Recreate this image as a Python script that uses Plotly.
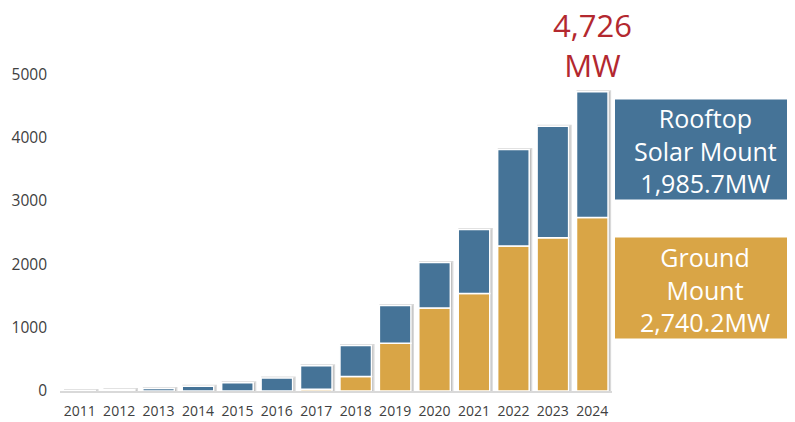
import plotly.graph_objects as go

years = ["2011", "2012", "2013", "2014", "2015", "2016", "2017",
         "2018", "2019", "2020", "2021", "2022", "2023", "2024"]
ground_mw = [0, 0, 0, 0, 0, 0, 28, 228, 755, 1310, 1540, 2290, 2420, 2740.2]
rooftop_mw = [6, 25, 40, 75, 130, 207, 372, 490, 595, 717, 1010, 1525, 1760, 1985.7]
y_ticks = [0, 1000, 2000, 3000, 4000, 5000]

total_mw = [g + r for g, r in zip(ground_mw, rooftop_mw)]

BLUE = "#457397"
GOLD = "#D9A546"
RED = "#B3282F"
FONT = "Open Sans"

fig = go.Figure()

# soft shadow behind each stacked bar
fig.add_trace(go.Bar(
    x=years, y=total_mw, width=0.8, offset=-0.36,
    marker=dict(color="#c4c4c4", line=dict(color="rgba(170,170,170,0.45)", width=3)),
    hoverinfo="skip", showlegend=False,
))
fig.add_trace(go.Bar(
    x=years, y=ground_mw, width=0.8, offset=-0.4, name="Ground Mount",
    marker=dict(color=GOLD, line=dict(color="white", width=1.5)),
    showlegend=False,
))
fig.add_trace(go.Bar(
    x=years, y=rooftop_mw, base=ground_mw, width=0.8, offset=-0.4, name="Rooftop Solar Mount",
    marker=dict(color=BLUE, line=dict(color="white", width=1.5)),
    showlegend=False,
))

W, H = 795, 422
ml, mr, mt, mb = 52, 191, 41, 39
pw = W - ml - mr
ph = H - mt - mb
PAGE = 8  # page offset of the figure inside the window


def px(xp):
    return (xp - PAGE - ml) / pw


def py(yp):
    return (H - mb - (yp - PAGE)) / ph


shapes = [
    dict(type="rect", xref="paper", yref="paper", x0=px(615), x1=px(810),
         y0=py(199.5), y1=py(99.5), fillcolor=BLUE, line=dict(width=0), layer="above"),
    dict(type="rect", xref="paper", yref="paper", x0=px(615), x1=px(810),
         y0=py(338.5), y1=py(237.5), fillcolor=GOLD, line=dict(width=0), layer="above"),
]

annotations = []


def add_text(text, xp, yp, size, color):
    annotations.append(dict(
        xref="paper", yref="paper", x=px(xp), y=py(yp), xanchor="center", yanchor="middle",
        text=text, showarrow=False, font=dict(family=FONT, size=size, color=color)))


# total label above the last bar
add_text(f"{total_mw[-1]:,.0f}<br>MW", 592, 45, 31, RED)

# side boxes
add_text(f"Rooftop<br>Solar Mount<br>{rooftop_mw[-1]:,.1f}MW", 705, 150, 25, "white")
add_text(f"Ground<br>Mount<br>{ground_mw[-1]:,.1f}MW", 705, 289, 25, "white")

# cropped title fragments at the very top edge
for ch, xp in [("g", 96), ("p", 174), ("y", 606)]:
    annotations.append(dict(xref="paper", yref="paper", x=px(xp), y=py(0),
                            xanchor="center", yanchor="bottom",
                            text=f"<b>{ch}</b>", showarrow=False,
                            font=dict(family=FONT, size=34, color="black")))

fig.update_layout(
    width=W, height=H,
    margin=dict(l=ml, r=mr, t=mt, b=mb),
    barmode="overlay",
    plot_bgcolor="white", paper_bgcolor="white",
    shapes=shapes, annotations=annotations,
    font=dict(family=FONT, color="#404040"),
    xaxis=dict(type="category", showline=True, linecolor="#d9d9d9", linewidth=1.5,
               showgrid=False, ticks="", tickfont=dict(size=14, color="#404040"),
               ticklabelstandoff=6, range=[-0.5, len(years) - 0.5], automargin=False),
    yaxis=dict(range=[0, 5400], tickvals=y_ticks, showgrid=False, zeroline=False,
               showline=False, ticks="", tickfont=dict(size=15.5, color="#404040"),
               ticklabelstandoff=12, automargin=False),
)

fig.write_html("out.html")
